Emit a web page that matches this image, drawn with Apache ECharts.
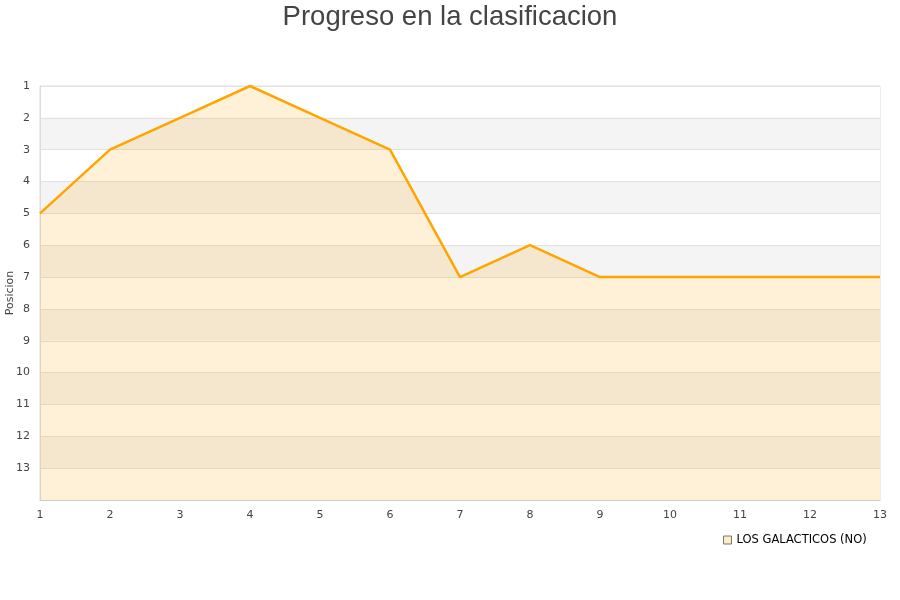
<!DOCTYPE html>
<html>
<head>
<meta charset="utf-8">
<script src="https://cdn.jsdelivr.net/npm/echarts@6/dist/echarts.min.js"></script>
<style>html,body{margin:0;padding:0;background:#fff}#c{width:900px;height:600px}</style>
</head>
<body>
<div id="c"></div>
<script>
var jornadas = [1,2,3,4,5,6,7,8,9,10,11,12,13];
var posiciones = [5,3,2,1,2,3,7,6,7,7,7,7,7];
var seriesName = 'LOS GALACTICOS (NO)';
var titleText = 'Progreso en la clasificacion';
var yName = 'Posicion';

var chart = echarts.init(document.getElementById('c'));
chart.setOption({
  animation: false,
  title: {
    text: titleText, left: 'center', top: -2,
    textStyle: {fontFamily: 'Liberation Sans', fontSize: 27.5, fontWeight: 'normal', color: '#444'}
  },
  legend: {
    data: [{name: seriesName, icon: 'rect', itemStyle: {color: '#fdebc9', borderColor: '#777', borderWidth: 1}}],
    left: 718, top: 529, itemWidth: 8, itemHeight: 8, itemGap: 10,
    textStyle: {fontFamily: 'DejaVu Sans', fontSize: 11.5, color: '#000'}
  },
  grid: {left: 40, right: 20, top: 86, bottom: 100, show: true, borderColor: '#ddd', borderWidth: 1,
    containLabel: false, outerBoundsMode: 'none'},
  xAxis: {
    type: 'value', min: 1, max: 13, interval: 1,
    axisLine: {show: true, lineStyle: {color: '#ccc'}},
    axisTick: {show: false},
    splitLine: {show: false},
    axisLabel: {color: '#444', fontFamily: 'DejaVu Sans', fontSize: 11, margin: 10}
  },
  yAxis: {
    type: 'value', inverse: true, min: 1, max: 14, interval: 1,
    name: yName, nameLocation: 'middle', nameGap: 24, nameRotate: 90, nameMoveOverlap: false,
    nameTextStyle: {fontFamily: 'DejaVu Sans', fontSize: 11, color: '#444'},
    axisLine: {show: true, lineStyle: {color: '#ddd'}},
    axisTick: {show: false},
    axisLabel: {color: '#444', fontFamily: 'DejaVu Sans', fontSize: 11, margin: 10,
      formatter: function(v){ return v >= 14 ? '' : String(v); }},
    splitLine: {show: true, lineStyle: {color: '#e2e2e2'}},
    splitArea: {show: true, areaStyle: {color: ['#ffffff', '#f4f4f4']}}
  },
  series: [{
    name: seriesName, type: 'line',
    data: jornadas.map(function(j, i){ return [j, posiciones[i]]; }),
    showSymbol: false, symbol: 'none',
    lineStyle: {color: '#ffa500', width: 2.5},
    itemStyle: {color: '#ffa500'},
    areaStyle: {color: 'rgba(255,165,0,0.22)', origin: 'end'}
  }]
});
</script>
</body>
</html>
